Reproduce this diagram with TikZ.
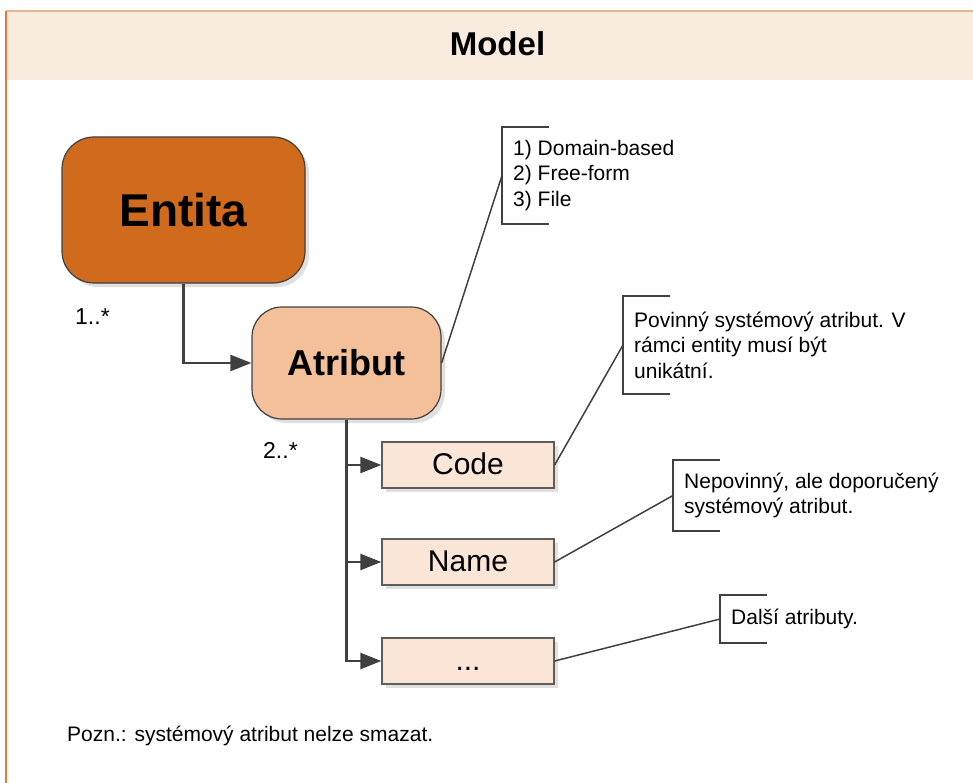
\documentclass[tikz,border=0pt]{standalone}
\usepackage{fontspec}
\setmainfont{Liberation Sans}
\usetikzlibrary{arrows.meta,shadows}

\definecolor{hlava}{HTML}{FAEBDF}
\definecolor{ramec}{HTML}{E07B39}
\definecolor{ramectop}{HTML}{E6B891}
\definecolor{entbarva}{HTML}{D06A1C}
\definecolor{atrbarva}{HTML}{F3C09A}
\definecolor{polbarva}{HTML}{FBE5D6}
\definecolor{cara}{HTML}{404040}

\tikzset{
	stin/.style={drop shadow={shadow xshift=4pt,shadow yshift=-4pt,fill=black!12,opacity=1}},
	entbox/.style={draw=cara,line width=1.2pt,fill=entbarva,rounded corners=32pt,stin,
		minimum width=243pt,minimum height=146pt,font=\fontsize{46}{50}\selectfont\bfseries},
	atrbox/.style={draw=cara,line width=1.2pt,fill=atrbarva,rounded corners=30pt,stin,
		minimum width=189pt,minimum height=112pt,font=\fontsize{36}{40}\selectfont\bfseries},
	polbox/.style={draw=cara!85,line width=1.3pt,fill=polbarva,stin,
		minimum width=172pt,minimum height=46pt,text height=21pt,text depth=3pt,
		font=\fontsize{30}{34}\selectfont},
	pozn/.style={anchor=west,align=left,inner xsep=11pt,inner ysep=0pt,
		font=\fontsize{21}{25.5}\selectfont},
	popis/.style={anchor=base west,inner sep=0pt,font=\fontsize{21}{25}\selectfont},
	sipka/.style={draw=cara,line width=2.5pt,-{Triangle[length=21pt,width=16pt]}},
	vodic/.style={draw=cara,line width=1.5pt}
}

\begin{document}
\begin{tikzpicture}[x=1pt,y=-1pt]
	\useasboundingbox (0,0) rectangle (973,783);

	%ramec a hlavicka
	\fill[hlava] (6,11) rectangle (973,80);
	\draw[ramectop,line width=1.5pt] (6,11) -- (973,11);
	\draw[ramec,line width=1.5pt] (6,11) -- (6,783);
	\node[font=\fontsize{33}{36}\selectfont\bfseries] (model) at (497.5,44) {Model};

	%entita a atribut
	\node[entbox] (ent) at (183.5,210) {Entita};
	\node[atrbox] (atr) at (346.5,363) {Atribut};
	\draw[sipka] (ent.south) |- (atr.west);
	\node[popis,font=\fontsize{23}{26}\selectfont] (kard1) at (75,324) {1..*};
	\node[popis,font=\fontsize{23}{26}\selectfont] (kard2) at (263,458) {2..*};

	%systemove atributy
	\node[polbox] (code) at (468,465) {Code};
	\node[polbox] (name) at (468,562) {Name};
	\node[polbox] (tecky) at (468,661) {...};
	\foreach \b in {code,name,tecky}
		\draw[sipka] (atr.south) |- (\b.west);

	%poznamky
	\node[pozn,minimum height=97pt] (typy) at (502,175.5) {1) Domain-based\\2) Free-form\\3) File};
	\node[pozn,minimum height=98pt] (povinny) at (623,345) {Povinný systémový atribut. V\\rámci entity musí být\\unikátní.};
	\node[pozn,minimum height=71pt] (nepovinny) at (673,495.5) {Nepovinný, ale doporučený\\systémový atribut.};
	\node[pozn,minimum height=48pt] (dalsi) at (720,619) {Další atributy.};
	\foreach \n in {typy,povinny,nepovinny,dalsi}
		\draw[vodic] ([xshift=47pt]\n.north west) -- (\n.north west) -- (\n.south west) -- ([xshift=47pt]\n.south west);
	\draw[vodic] (atr.east) -- (typy.west);
	\draw[vodic] (code.east) -- (povinny.west);
	\draw[vodic] (name.east) -- (nepovinny.west);
	\draw[vodic] (tecky.east) -- (dalsi.west);

	\node[popis] (pozn) at (67,741) {Pozn.: systémový atribut nelze smazat.};
\end{tikzpicture}
\end{document}
